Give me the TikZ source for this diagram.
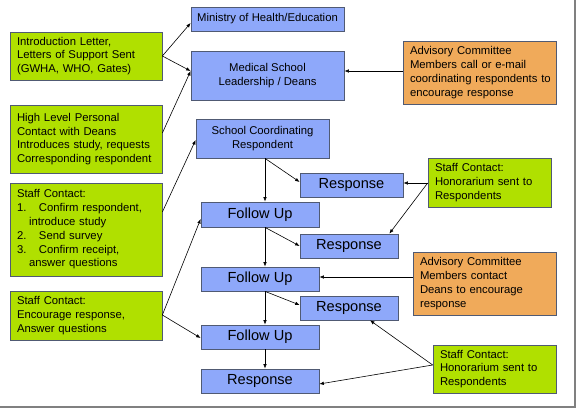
\documentclass[tikz,border=0pt]{standalone}
\usepackage{fontspec}
\setmainfont{Liberation Sans}
\usetikzlibrary{calc,arrows.meta}
\definecolor{bluefill}{RGB}{142,168,250}
\definecolor{greenfill}{RGB}{176,224,0}
\definecolor{orangefill}{RGB}{240,170,90}
\definecolor{boxline}{RGB}{80,90,115}
\definecolor{frame}{RGB}{128,128,128}
\begin{document}
\begin{tikzpicture}[x=1pt,y=-1pt,
  base/.style={draw=boxline, line width=0.7pt, inner ysep=0pt, inner xsep=7pt, text=black},
  small/.style={font=\fontsize{11.3}{13.8}\selectfont},
  big/.style={font=\fontsize{14.6}{16}\selectfont},
  gbox/.style={base, small, fill=greenfill, align=left},
  obox/.style={base, small, fill=orangefill, align=left},
  bbox/.style={base, small, fill=bluefill, align=center, inner xsep=0pt},
  fbox/.style={base, big, fill=bluefill, align=center, inner xsep=0pt},
  arr/.style={draw=black, line width=0.6pt, -{Latex[length=4.5pt,width=3.5pt]}}
]
\useasboundingbox (0,0) rectangle (576,408);
\fill[white] (0,0) rectangle (576,408);
\fill[frame] (573.5,0) rectangle (576,408);
\fill[frame] (0,405.5) rectangle (576,408);

% left green boxes
\node[gbox, text width=138pt, minimum height=48pt] (g1) at (86,56)
  {Introduction Letter,\\Letters of Support Sent\\(GWHA, WHO, Gates)};
\node[gbox, text width=138pt, minimum height=68pt] (g2) at (86,139)
  {High Level Personal\\Contact with Deans\\\mbox{Introduces study, requests}\\\mbox{Corresponding respondent}};
\node[gbox, text width=138pt, minimum height=93pt] (g3) at (86,229.5)
  {Staff Contact:\\\makebox[22pt][l]{1.}Confirm respondent,\\\hspace*{12pt}introduce study\\\makebox[22pt][l]{2.}Send survey\\\makebox[22pt][l]{3.}Confirm receipt,\\\hspace*{12pt}answer questions};
\node[gbox, text width=138pt, minimum height=49pt] (g4) at (86,315.5)
  {Staff Contact:\\Encourage response,\\Answer questions};

% blue boxes
\node[bbox, minimum width=153pt, minimum height=24pt] (min) at (267.5,19) {Ministry of Health/Education};
\node[bbox, minimum width=153pt, minimum height=49pt] (med) at (267.5,75.5) {Medical School\\Leadership / Deans};
\node[bbox, minimum width=133pt, minimum height=39pt] (scr) at (262.5,138.5) {School Coordinating\\Respondent};
\node[fbox, minimum width=103pt, minimum height=24pt] (r1) at (351.5,185) {Response};
\node[fbox, minimum width=118pt, minimum height=25pt] (f1) at (260,214.5) {Follow Up};
\node[fbox, minimum width=98pt, minimum height=24pt] (r2) at (349,246) {Response};
\node[fbox, minimum width=118pt, minimum height=24pt] (f2) at (260,279) {Follow Up};
\node[fbox, minimum width=98pt, minimum height=24pt] (r3) at (349,308) {Response};
\node[fbox, minimum width=118pt, minimum height=24pt] (f3) at (260,337) {Follow Up};
\node[fbox, minimum width=118pt, minimum height=24pt] (r4) at (260,381) {Response};

% right boxes
\node[obox, text width=139pt, minimum height=63pt] (adv1) at (479.5,72.5)
  {Advisory Committee\\Members call or e-mail\\\mbox{coordinating respondents to}\\encourage response};
\node[gbox, text width=109pt, minimum height=49pt] (h1) at (489.5,182.5)
  {Staff Contact:\\Honorarium sent to\\Respondents};
\node[obox, text width=129pt, minimum height=63pt] (adv2) at (484.5,283.5)
  {Advisory Committee\\Members contact\\Deans to encourage\\response};
\node[gbox, text width=109pt, minimum height=48pt] (h2) at (494.5,369)
  {Staff Contact:\\Honorarium sent to\\Respondents};

% helper coordinates
\coordinate (medin) at ($(med.west)+(0,-4.5)$);
\coordinate (g4out) at ($(g4.east)+(0,-0.5)$);
\coordinate (vx) at ($(f1.north)+(5,0)$);
\coordinate (h2out) at ($(h2.west)+(0,-4)$);
\coordinate (a1) at ($(adv1.west)+(0,-1.5)$);
\coordinate (a2) at ($(adv2.west)+(0,-6.5)$);
\coordinate (h1out) at ($(h1.west)+(0,0.5)$);

% left connectors
\draw[arr] (g1.east) -- ($(min.west)+(0,4)$);
\draw[arr] (g1.east) -- (medin);
\draw[arr] ($(g2.east)+(0,-6)$) -- (medin);
\draw[arr] ($(g3.east)+(0,-17.5)$) -- ($(scr.west)+(0,1.5)$);
\draw[arr] (g4out) -- ($(f1.west)+(0,4.5)$);
\draw[arr] (g4out) -- ($(f3.west)+(0,1)$);

% central chain
\draw[arr] (vx |- scr.south) -- (vx |- f1.north);
\draw[arr] (vx |- scr.south) -- ($(r1.west)+(0,-3)$);
\draw[arr] (vx |- f1.south) -- (vx |- f2.north);
\draw[arr] (vx |- f1.south) -- (r2.west);
\draw[arr] (vx |- f2.south) -- (vx |- f3.north);
\draw[arr] (vx |- f2.south) -- ($(r3.west)+(0,-3)$);
\draw[arr] (vx |- f3.south) -- (vx |- r4.north);

% right connectors
\draw[arr] (a1) -- (a1 -| med.east);
\draw[arr] (h1out) -- (h1out -| r1.east);
\draw[arr] (h1out) -- ($(r2.north east)+(-9,0)$);
\draw[arr] (a2) -- (a2 -| f2.east);
\draw[arr] (h2out) -- ($(r3.south)+(21,0)$);
\draw[arr] (h2out) -- ($(r4.east)+(0,3)$);
\end{tikzpicture}
\end{document}
